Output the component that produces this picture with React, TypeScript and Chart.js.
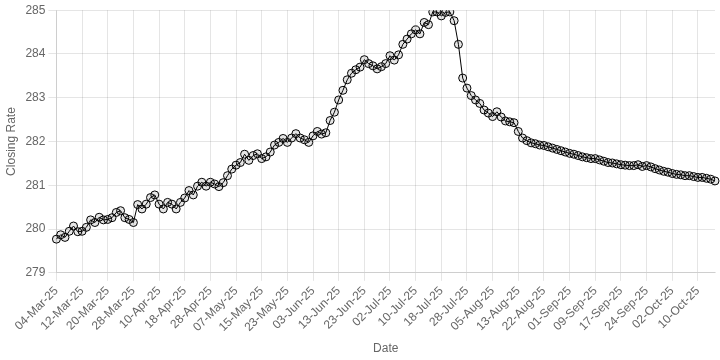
import React, { useEffect, useRef } from "react";
import { Chart, registerables } from "chart.js";

Chart.register(...registerables);

const dates: string[] = [
  "04-Mar-25","05-Mar-25","06-Mar-25","07-Mar-25","10-Mar-25","11-Mar-25","12-Mar-25","13-Mar-25","14-Mar-25","17-Mar-25",
  "18-Mar-25","19-Mar-25","20-Mar-25","21-Mar-25","24-Mar-25","25-Mar-25","26-Mar-25","27-Mar-25","28-Mar-25",
  "03-Apr-25","04-Apr-25","07-Apr-25","08-Apr-25","09-Apr-25","10-Apr-25","11-Apr-25","14-Apr-25","15-Apr-25","16-Apr-25",
  "17-Apr-25","18-Apr-25","21-Apr-25","22-Apr-25","23-Apr-25","24-Apr-25","25-Apr-25","28-Apr-25","29-Apr-25","30-Apr-25",
  "02-May-25","05-May-25","06-May-25","07-May-25","08-May-25","09-May-25","12-May-25","13-May-25","14-May-25","15-May-25",
  "16-May-25","19-May-25","20-May-25","21-May-25","22-May-25","23-May-25","26-May-25","27-May-25","29-May-25","30-May-25",
  "02-Jun-25","03-Jun-25","04-Jun-25","05-Jun-25","10-Jun-25","11-Jun-25","12-Jun-25","13-Jun-25","16-Jun-25","17-Jun-25",
  "18-Jun-25","19-Jun-25","20-Jun-25","23-Jun-25","24-Jun-25","25-Jun-25","26-Jun-25","27-Jun-25","30-Jun-25",
  "02-Jul-25","03-Jul-25","04-Jul-25","07-Jul-25","08-Jul-25","09-Jul-25","10-Jul-25","11-Jul-25","14-Jul-25","15-Jul-25",
  "16-Jul-25","17-Jul-25","18-Jul-25","21-Jul-25","22-Jul-25","23-Jul-25","24-Jul-25","25-Jul-25","28-Jul-25","29-Jul-25",
  "30-Jul-25","31-Jul-25",
  "01-Aug-25","04-Aug-25","05-Aug-25","06-Aug-25","07-Aug-25","08-Aug-25","11-Aug-25","12-Aug-25","13-Aug-25","15-Aug-25",
  "18-Aug-25","19-Aug-25","20-Aug-25","21-Aug-25","22-Aug-25","25-Aug-25","26-Aug-25","27-Aug-25","28-Aug-25","29-Aug-25",
  "01-Sep-25","02-Sep-25","03-Sep-25","04-Sep-25","05-Sep-25","08-Sep-25","09-Sep-25","10-Sep-25","11-Sep-25","12-Sep-25",
  "15-Sep-25","16-Sep-25","17-Sep-25","18-Sep-25","19-Sep-25","20-Sep-25","22-Sep-25","23-Sep-25","24-Sep-25","25-Sep-25",
  "26-Sep-25","29-Sep-25","30-Sep-25",
  "01-Oct-25","02-Oct-25","03-Oct-25","06-Oct-25","07-Oct-25","08-Oct-25","09-Oct-25","10-Oct-25","13-Oct-25","14-Oct-25",
  "15-Oct-25","16-Oct-25",
];

const closingRates: number[] = [
  279.77, 279.87, 279.81, 279.95, 280.07, 279.94, 279.95, 280.04, 280.21, 280.15,
  280.27, 280.21, 280.22, 280.26, 280.38, 280.42, 280.26, 280.22, 280.15, 280.56,
  280.46, 280.57, 280.72, 280.78, 280.57, 280.46, 280.61, 280.57, 280.46, 280.61,
  280.71, 280.88, 280.78, 280.98, 281.07, 280.98, 281.07, 281.03, 280.97, 281.06,
  281.22, 281.37, 281.46, 281.52, 281.71, 281.57, 281.68, 281.72, 281.61, 281.65,
  281.76, 281.92, 281.98, 282.07, 281.98, 282.08, 282.18, 282.08, 282.04, 281.98,
  282.13, 282.23, 282.17, 282.20, 282.48, 282.67, 282.95, 283.17, 283.41, 283.56,
  283.64, 283.70, 283.87, 283.78, 283.73, 283.66, 283.71, 283.78, 283.96, 283.86,
  283.98, 284.22, 284.34, 284.46, 284.55, 284.46, 284.72, 284.67, 284.96, 284.96,
  284.87, 284.95, 284.96, 284.76, 284.22, 283.45, 283.22, 283.05, 282.95, 282.87,
  282.72, 282.65, 282.57, 282.68, 282.56, 282.47, 282.45, 282.43, 282.23, 282.08,
  282.02, 281.97, 281.95, 281.92, 281.91, 281.88, 281.85, 281.82, 281.79, 281.76,
  281.73, 281.71, 281.68, 281.65, 281.63, 281.61, 281.61, 281.58, 281.55, 281.52,
  281.51, 281.49, 281.47, 281.46, 281.45, 281.45, 281.47, 281.43, 281.45, 281.42,
  281.38, 281.35, 281.32, 281.30, 281.27, 281.25, 281.24, 281.22, 281.22, 281.20,
  281.18, 281.18, 281.16, 281.14, 281.10,
];

const labelEvery = 6;
const yMin = 279;
const yMax = 285;
const yStep = 1;

const FONT = "'Liberation Sans', Arial, Helvetica, sans-serif";

export default function App() {
  const canvasRef = useRef<HTMLCanvasElement | null>(null);

  useEffect(() => {
    document.body.style.margin = "0";
    const canvas = canvasRef.current;
    if (!canvas) return;
    const chart = new Chart(canvas, {
      type: "line",
      data: {
        labels: dates,
        datasets: [
          {
            label: "Closing Rate",
            data: closingRates,
            borderColor: "#000000",
            borderWidth: 1,
            pointRadius: 4,
            pointBorderColor: "#000000",
            pointBorderWidth: 1,
            pointBackgroundColor: "rgba(0,0,0,0.1)",
            fill: false,
            tension: 0,
          },
        ],
      },
      options: {
        animation: false,
        responsive: false,
        maintainAspectRatio: false,
        layout: { padding: { right: 5, top: 0, left: 0, bottom: 0 } },
        plugins: {
          legend: { display: false },
          tooltip: { enabled: false },
        },
        scales: {
          x: {
            grid: { color: "rgba(0,0,0,0.1)" },
            title: {
              display: true,
              text: "Date",
              color: "#666",
              font: { family: FONT, size: 12 },
            },
            ticks: {
              autoSkip: false,
              minRotation: 45,
              maxRotation: 45,
              color: "#666",
              font: { family: FONT, size: 12 },
              callback: function (_value: any, index: number) {
                return index % labelEvery === 0 ? dates[index] : null;
              },
            },
          },
          y: {
            min: yMin,
            max: yMax,
            grid: { color: "rgba(0,0,0,0.1)" },
            title: {
              display: true,
              text: "Closing Rate",
              color: "#666",
              font: { family: FONT, size: 12 },
            },
            ticks: {
              stepSize: yStep,
              color: "#666",
              font: { family: FONT, size: 12 },
            },
          },
        },
      },
    });
    return () => chart.destroy();
  }, []);

  return (
    <div style={{ width: 720, height: 360 }}>
      <canvas ref={canvasRef} width={720} height={360} style={{ display: "block" }} />
    </div>
  );
}
